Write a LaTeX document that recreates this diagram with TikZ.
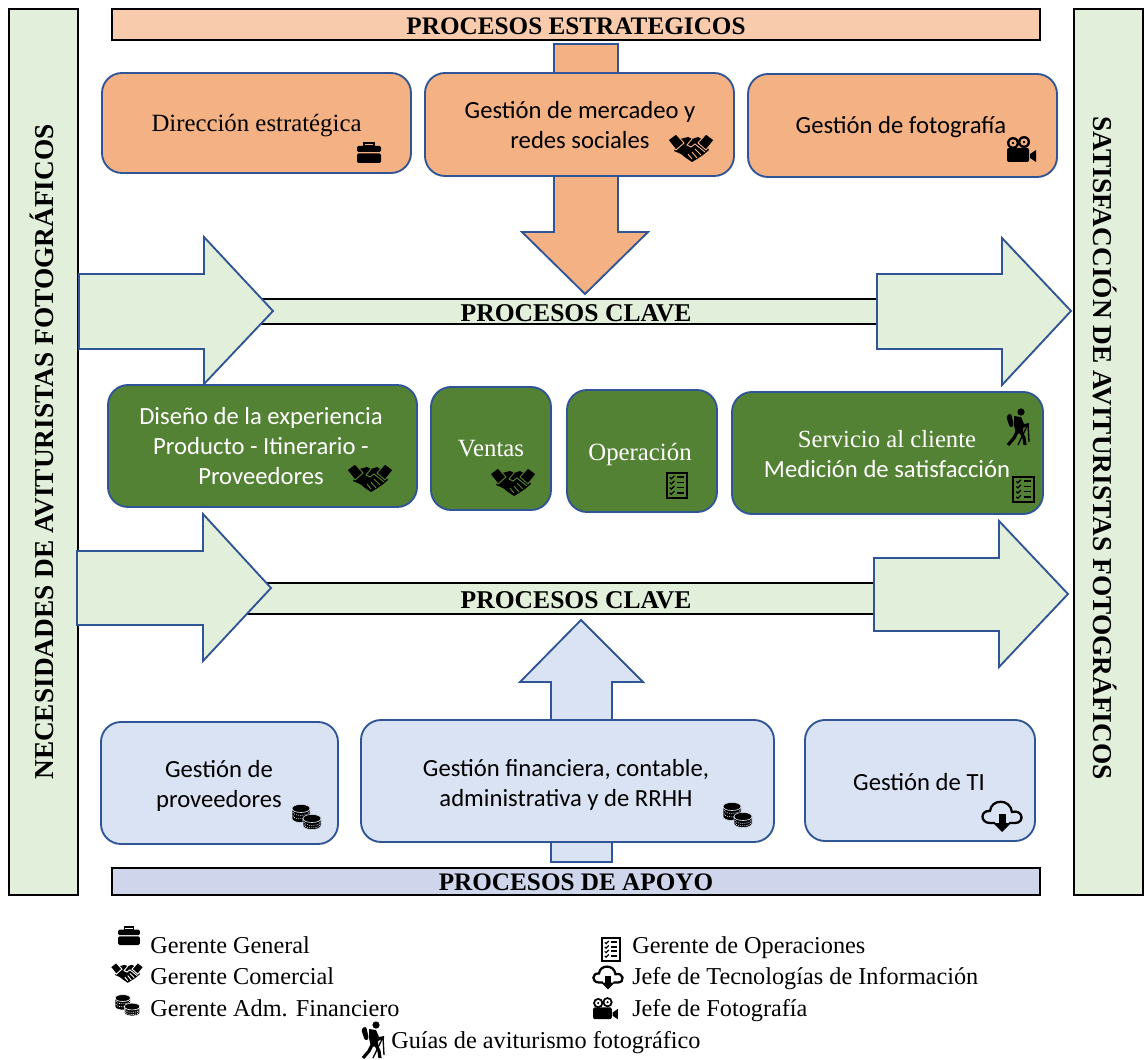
\documentclass[tikz,border=0pt]{standalone}
\usepackage{fontspec}
\setmainfont{Liberation Serif}
\newfontfamily\cali{Carlito}
\definecolor{bline}{HTML}{2F5597}
\definecolor{orangeF}{HTML}{F4B183}
\definecolor{orangeL}{HTML}{F8CBAD}
\definecolor{greenF}{HTML}{548235}
\definecolor{greenL}{HTML}{E2EFDA}
\definecolor{blueF}{HTML}{DAE3F3}
\definecolor{blueB}{HTML}{CFD5EA}
\tikzset{
  x=0.75pt,y=-0.75pt,
  pbox/.style={rounded corners=15pt,draw=bline,line width=1.4pt,inner sep=0pt},
  obox/.style={pbox,fill=orangeF},
  gbox/.style={pbox,fill=greenF},
  ubox/.style={pbox,fill=blueF},
  bar/.style={draw=black,line width=1.4pt,inner sep=0pt},
  keyline/.style={draw=black,line width=1.4pt},
  bigarrow/.style={draw=bline,line width=1.4pt,line join=miter},
  head/.style={font=\bfseries\fontsize{18.9}{22}\selectfont,inner sep=0pt},
  keyhead/.style={font=\bfseries\fontsize{19.2}{22}\selectfont,inner sep=0pt},
  sidehead/.style={font=\bfseries\fontsize{20.5}{24}\selectfont,inner sep=0pt},
  lab/.style={font=\cali\fontsize{18.5}{22.5}\selectfont,align=center,inner sep=0pt},
  slab/.style={font=\fontsize{18.6}{22.5}\selectfont,align=center,inner sep=0pt},
  leg/.style={font=\fontsize{18.2}{21}\selectfont,anchor=base west,inner sep=0pt},
}
% icons: drawn in pixel units, y downwards, centred on (0,0)
\newcommand{\brief}[3]{\begin{scope}[shift={(#1,#2)},scale=#3]
 \draw[black,line width=1.3pt] (-5,-7) rectangle (5,-10.3);
 \fill[black,rounded corners=1pt] (-12,-7) rectangle (12,-1);
 \fill[black,rounded corners=1pt] (-12,0.5) rectangle (12,10);
 \end{scope}}
\newcommand{\shake}[4]{\begin{scope}[shift={(#1,#2)},scale=#3]
 \fill[black] (-11,-8) -- (-3,-10) -- (1,-8) -- (7,-10) -- (12,-7) -- (18,3) -- (12,8) -- (6,12) -- (1,15) -- (-5,11) -- (-10,7) -- (-17,4) -- cycle;
 \filldraw[fill=black,draw=#4,line width=.7pt] (-23,-7) -- (-15,-13) -- (-7,-4) -- (-15,3) -- cycle;
 \filldraw[fill=black,draw=#4,line width=.7pt] (23,-7) -- (15,-13) -- (7,-4) -- (15,3) -- cycle;
 \draw[#4,line width=.7pt] (1,-8) -- (-4,-2) -- (0,0) -- (4,-3) -- (14,5);
 \draw[#4,line width=.7pt] (4,2) -- (10,8) (1,5) -- (6,11) (-3,7) -- (1,12);
 \end{scope}}
\newcommand{\onestack}[5]{% x, top y, bottom y, background
 \filldraw[fill=black,draw=#4,line width=.4pt] (#1-9,#2) -- (#1-9,#3) .. controls (#1-9,#3+5.3) and (#1+9,#3+5.3) .. (#1+9,#3) -- (#1+9,#2) .. controls (#1+9,#2-5.3) and (#1-9,#2-5.3) .. (#1-9,#2) -- cycle;
 \draw[#4,line width=.5pt] (#1-9,#2) .. controls (#1-9,#2+5.3) and (#1+9,#2+5.3) .. (#1+9,#2);
 \draw[#4,line width=.5pt,dash pattern=on .8pt off .8pt] (#1-8,#2+3.5) .. controls (#1-8,#2+8) and (#1+8,#2+8) .. (#1+8,#2+3.5);
 \draw[#4,line width=.5pt,dash pattern=on .8pt off .8pt] (#1-8,#2+#5) .. controls (#1-8,#2+#5+4.5) and (#1+8,#2+#5+4.5) .. (#1+8,#2+#5);
}
\newcommand{\coins}[4]{\begin{scope}[shift={(#1,#2)},scale=#3]
 \onestack{-5}{-7}{3}{#4}{7}
 \onestack{6}{3}{10}{#4}{6}
 \end{scope}}
\newcommand{\checks}[3]{\begin{scope}[shift={(#1,#2)},scale=#3]
 \draw[black,line width=1.5pt] (-10,-12.5) rectangle (10,12.5);
 \foreach \ly in {-8,-3,2,7} {
  \draw[black,line width=.9pt] (-7,\ly) -- (-5.5,\ly+1.5) -- (-2.5,\ly-1.5);
  \draw[black,line width=1.3pt] (0,\ly) -- (7,\ly);
 }
 \end{scope}}
\newcommand{\hiker}[3]{\begin{scope}[shift={(#1,#2)},scale=#3]
 \fill[black] (3,-15) circle (3.6);
 \fill[black,rounded corners=2pt] (-12,-11) -- (-7,-14) -- (-4,-1) -- (-8,1) -- cycle;
 \fill[black] (-4,-11) -- (3,-10) -- (6,-3) -- (11,-4) -- (11,-2) -- (5,1) -- (5,6) -- (-2,7) -- (-4,-2) -- cycle;
 \draw[black,line width=2.4pt] (-1,5) -- (-4,11) -- (-10,18);
 \draw[black,line width=2.4pt] (3,5) -- (6,11) -- (7,18);
 \draw[black,line width=1pt] (10,-3) -- (0,18) (10,-3) -- (11,15);
 \end{scope}}
\newcommand{\cloud}[3]{\begin{scope}[shift={(#1,#2)},scale=#3]
 \draw[black,line width=1.7pt] (-7,6) -- (-12,6) .. controls (-22,6) and (-22,-7) .. (-12,-6) .. controls (-11,-18) and (8,-19) .. (10,-5) .. controls (21,-8) and (23,6) .. (13,6) -- (7,6);
 \fill[black] (-3.5,-3) rectangle (3.5,7);
 \fill[black] (-9,6) -- (9,6) -- (0,15) -- cycle;
 \end{scope}}
\newcommand{\camera}[4]{\begin{scope}[shift={(#1,#2)},scale=#3]
 \fill[black,rounded corners=1.5pt] (-14,-2) rectangle (8,12);
 \fill[black] (9,4) -- (15,0) -- (15,12) -- (9,8) -- cycle;
 \foreach \cx/\cy in {-8/-7,3/-8} {
  \fill[black] (\cx,\cy) circle (6);
  \fill[#4] (\cx,\cy) circle (3.6);
  \fill[black] (\cx,\cy) circle (1.4);
 }
 \end{scope}}
\begin{document}
\begin{tikzpicture}
\useasboundingbox (0,0) rectangle (1144,1059);
% side bars
\node[bar,fill=greenL,minimum width=51.75pt,minimum height=664.5pt] (sideL) at (43.5,452) {};
\node[bar,fill=greenL,minimum width=51.75pt,minimum height=664.5pt] (sideR) at (1108.5,452) {};
\node[sidehead,rotate=90] (sideLt) at (42,452) {NECESIDADES DE AVITURISTAS FOTOGRÁFICOS};
\node[sidehead,rotate=-90] (sideRt) at (1105,448) {SATISFACCIÓN DE AVITURISTAS FOTOGRÁFICOS};
% top and bottom bars
\node[bar,fill=orangeL,minimum width=696pt,minimum height=23.25pt] (topbar) at (576,24.5) {};
\node[head] (topt) at (576,26) {PROCESOS ESTRATEGICOS};
\node[bar,fill=blueB,minimum width=696pt,minimum height=20.25pt] (botbar) at (576,881.5) {};
\node[head] (bott) at (576,882) {PROCESOS DE APOYO};
% key process bars (their left and right ends lie under the large arrows)
\fill[greenL] (230,299) rectangle (880,324);
\draw[keyline] (230,299) -- (880,299) (230,324) -- (880,324);
\node[keyhead] (key1t) at (576,313) {PROCESOS CLAVE};
\fill[greenL] (230,583) rectangle (880,614);
\draw[keyline] (230,583) -- (880,583) (230,614) -- (880,614);
\node[keyhead] (key2t) at (576,600) {PROCESOS CLAVE};
% large arrows
\draw[bigarrow,fill=orangeF] (554,44) -- (618,44) -- (618,232) -- (648,232) -- (585,294) -- (522,232) -- (554,232) -- cycle;
\draw[bigarrow,fill=blueF] (551,862) -- (551,682) -- (520,682) -- (581,620) -- (643,682) -- (612,682) -- (612,862) -- cycle;
\draw[bigarrow,fill=greenL] (79,274) -- (204,274) -- (204,237) -- (273,311) -- (204,384) -- (204,349) -- (79,349) -- cycle;
\draw[bigarrow,fill=greenL] (877,274) -- (1002,274) -- (1002,238) -- (1071,311) -- (1002,385) -- (1002,349) -- (877,349) -- cycle;
\draw[bigarrow,fill=greenL] (77,551) -- (203,551) -- (203,514) -- (271,588) -- (203,661) -- (203,625) -- (77,625) -- cycle;
\draw[bigarrow,fill=greenL] (874,558) -- (999,558) -- (999,521) -- (1068,594) -- (999,667) -- (999,631) -- (874,631) -- cycle;
% orange boxes
\node[obox,minimum width=231.75pt,minimum height=75pt] (o1) at (256.5,123) {};
\node[obox,minimum width=231.75pt,minimum height=77.25pt] (o2) at (579.5,124.5) {};
\node[obox,minimum width=231.75pt,minimum height=77.25pt] (o3) at (902.5,125.5) {};
\node[slab] (o1t) at (256.5,126) {Dirección estratégica};
\node[lab] (o2t) at (580,125) {Gestión de mercadeo y\\redes sociales};
\node[lab] (o3t) at (901,127) {Gestión de fotografía};
% green boxes
\node[gbox,minimum width=231.75pt,minimum height=91.5pt] (g1) at (262.5,446) {};
\node[gbox,minimum width=90pt,minimum height=92.25pt] (g2) at (491,448.5) {};
\node[gbox,minimum width=112.5pt,minimum height=91.5pt] (g3) at (642,451) {};
\node[gbox,minimum width=233.25pt,minimum height=91.5pt] (g4) at (887.5,453) {};
\node[lab,text=white] (g1t) at (261,446) {Diseño de la experiencia\\Producto - Itinerario -\\Proveedores};
\node[slab,text=white] (g2t) at (491,449) {Ventas};
\node[slab,text=white] (g3t) at (640,455) {Operación};
\node[lab,text=white] (g4t) at (887,454) {\fontsize{18.5}{22.5}\selectfont\rmfamily Servicio al cliente\\\cali Medición de satisfacción};
% blue boxes
\node[ubox,minimum width=177.75pt,minimum height=91.5pt] (u1) at (219.5,783) {};
\node[ubox,minimum width=309.75pt,minimum height=91.5pt] (u2) at (567.5,781) {};
\node[ubox,minimum width=172.5pt,minimum height=90.75pt] (u3) at (920,780.5) {};
\node[lab] (u1t) at (219,786) {Gestión de\\proveedores};
\node[lab] (u2t) at (566,785) {Gestión financiera, contable,\\administrativa y de RRHH};
\node[lab] (u3t) at (919,782) {Gestión de TI};
% icons in boxes
\brief{369}{153}{1}
\shake{691}{147}{1}{orangeF}
\camera{1021}{150}{1}{orangeF}
\shake{370}{477}{1}{greenF}
\shake{513}{481}{1}{greenF}
\checks{677}{485.5}{1.03}
\hiker{1018}{427}{1}
\checks{1023.5}{489.5}{1.03}
\coins{306}{815.5}{1}{blueF}
\coins{737}{813.5}{1}{blueF}
\cloud{1002}{817}{1}
% legend
\node[leg] (l1) at (150,953) {Gerente General};
\node[leg] (l2) at (150,984) {Gerente Comercial};
\node[leg] (l3) at (150,1016) {Gerente Adm. Financiero};
\node[leg] (l4) at (632,953) {Gerente de Operaciones};
\node[leg] (l5) at (632,984) {Jefe de Tecnologías de Información};
\node[leg] (l6) at (632,1016) {Jefe de Fotografía};
\node[leg] (l7) at (391,1048) {Guías de aviturismo fotográfico};
\brief{129}{936}{.9}
\shake{127}{972}{.72}{white}
\coins{127}{1004}{.85}{white}
\checks{611}{949.5}{.9}
\cloud{608}{978}{.75}
\camera{605}{1009}{.85}{white}
\hiker{373}{1040}{1}
\end{tikzpicture}
\end{document}
